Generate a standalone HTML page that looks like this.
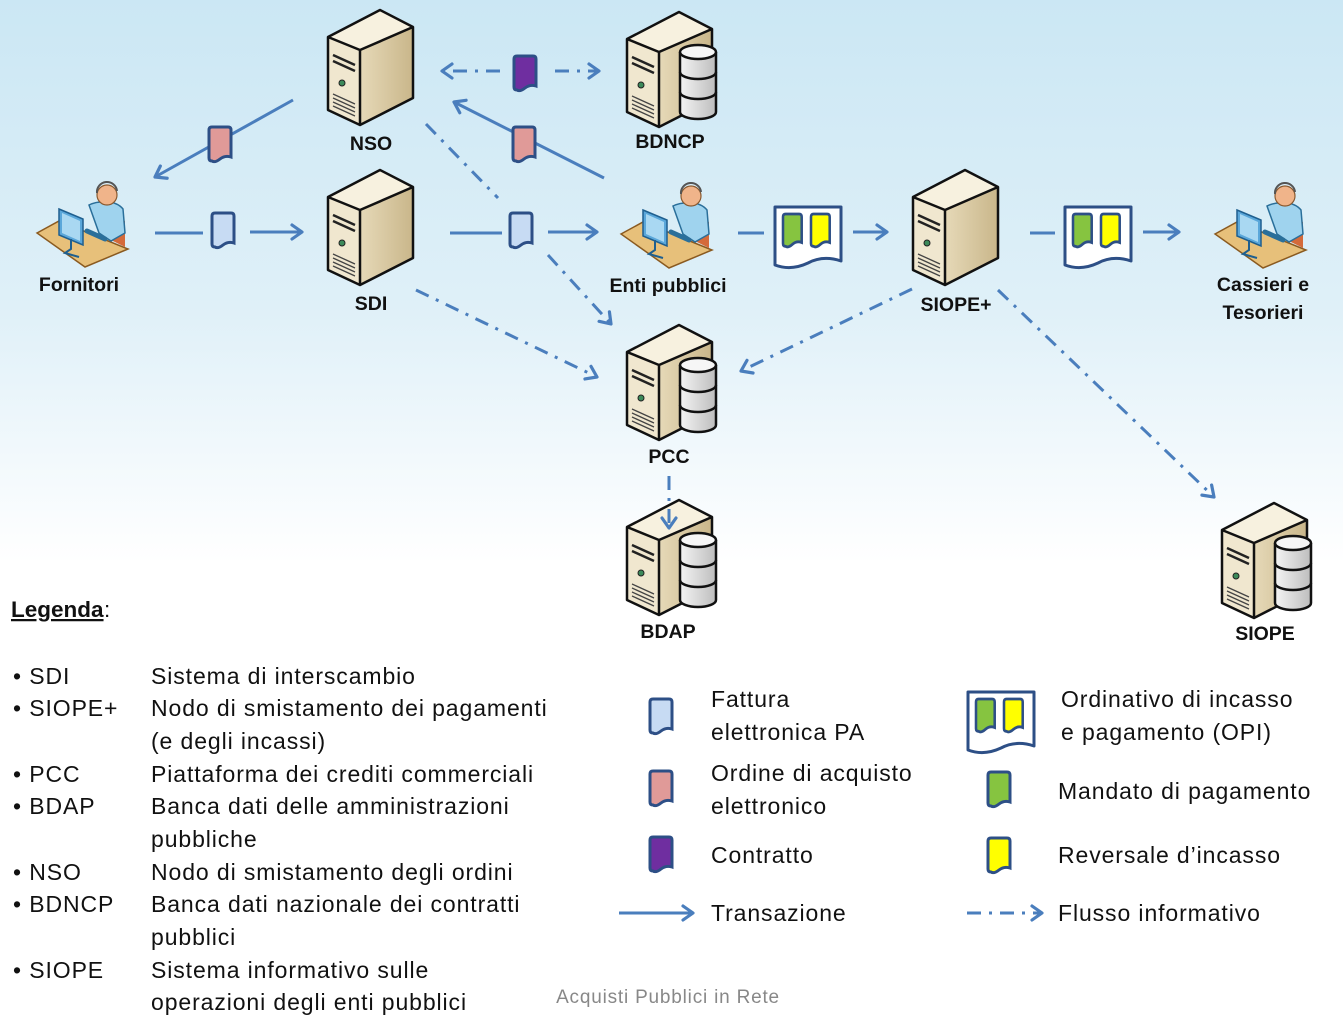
<!DOCTYPE html>
<html><head><meta charset="utf-8"><style>
html,body{margin:0;padding:0;}
body{width:1343px;height:1023px;overflow:hidden;background:#fff;}
svg{display:block;font-family:"Liberation Sans",sans-serif;}
.lb{font-weight:bold;font-size:19.5px;fill:#111;text-anchor:middle;}
.lg{font-size:23px;fill:#111;letter-spacing:0.9px;}
</style></head><body>
<svg width="1343" height="1023" viewBox="0 0 1343 1023" xmlns="http://www.w3.org/2000/svg">
<defs>
<linearGradient id="bg" x1="0" y1="0" x2="0" y2="1">
<stop offset="0" stop-color="#cbe7f4"/><stop offset="0.3" stop-color="#dff0f8"/><stop offset="0.55" stop-color="#ffffff"/><stop offset="1" stop-color="#ffffff"/>
</linearGradient>
<linearGradient id="sr" x1="0" y1="0" x2="1" y2="0"><stop offset="0" stop-color="#e6d9b8"/><stop offset="1" stop-color="#c9b68a"/></linearGradient>
<linearGradient id="cy" x1="0" y1="0" x2="1" y2="0"><stop offset="0" stop-color="#f4f4f4"/><stop offset="1" stop-color="#bdbdbd"/></linearGradient>
<marker id="ah" markerWidth="16" markerHeight="18" refX="13" refY="9" orient="auto" markerUnits="userSpaceOnUse">
<path d="M3,2 L13,9 L3,16" fill="none" stroke="#4a7ebd" stroke-width="3.2" stroke-linejoin="round" stroke-linecap="round"/></marker>
<g id="srv">
<polygon points="32,40 85,17 85,88 32,115" fill="url(#sr)"/>
<polygon points="0,27 32,40 32,115 0,100" fill="#f0e7cf"/>
<polygon points="0,27 52,0 85,17 32,40" fill="#f7f1df"/>
<path d="M0,27 L52,0 L85,17 L85,88 L32,115 L0,100 Z M0,27 L32,40 L85,17 M32,40 L32,115" fill="none" stroke="#111" stroke-width="2.5" stroke-linejoin="round"/>
<path d="M5,45 L27,55 M5,51 L27,61" stroke="#222" stroke-width="2.5"/>
<circle cx="14" cy="73" r="3" fill="#3c8a5a" stroke="#222" stroke-width="1"/>
<path d="M5,84 L27,94 M5,88 L27,98 M5,92 L27,102 M5,96 L27,106" stroke="#444" stroke-width="1.3"/>
</g>
<g id="cyl">
<path d="M0,8 V68 A18,7 0 0 0 36,68 V8" fill="url(#cy)" stroke="#111" stroke-width="2.5"/>
<path d="M0,28 A18,7 0 0 0 36,28 M0,48 A18,7 0 0 0 36,48" fill="none" stroke="#111" stroke-width="2.5"/>
<ellipse cx="18" cy="8" rx="18" ry="7" fill="#f6f6f6" stroke="#111" stroke-width="2.5"/>
</g>
<g id="dbs"><use href="#srv"/><use href="#cyl" x="53" y="32"/></g>
<g id="per">
<polygon points="0,50 22,38 91,66 48,84" fill="#e7c07a" stroke="#8a5a20" stroke-width="1.5"/>
<polygon points="68,28 88,38 88,64 68,54" fill="#d46a3a"/>
<path d="M52,22 C60,18 78,16 86,26 L88,50 L74,58 L62,50 Z" fill="#9fd3ee" stroke="#2a6f9a" stroke-width="1.5"/>
<circle cx="70" cy="12" r="10" fill="#f0b48a" stroke="#8a5a30" stroke-width="1.2"/>
<path d="M60,10 A10,10 0 0 1 80,8" fill="none" stroke="#555" stroke-width="2"/>
<polygon points="22,26 46,36 46,62 22,52" fill="#5aa7da" stroke="#1f5f8f" stroke-width="1.5"/>
<polygon points="25,30 43,38 43,58 25,50" fill="#a9d8f2"/>
<path d="M34,56 L34,66 L28,70 L42,74" fill="none" stroke="#1f5f8f" stroke-width="2"/>
<path d="M50,48 L68,56" stroke="#2a6f9a" stroke-width="5" stroke-linecap="round"/>
</g>
<path id="docp" d="M3,0 H19 Q22,0 22,3 V30 Q16,28 11,32 Q6,36 3,34 Q0,34 0,31 V3 Q0,0 3,0 Z"/>
<g id="dB"><use href="#docp" fill="#c7dbf3" stroke="#2d4f86" stroke-width="3"/></g>
<g id="dP"><use href="#docp" fill="#e09a98" stroke="#2d4f86" stroke-width="3"/></g>
<g id="dV"><use href="#docp" fill="#6f2ea0" stroke="#2d4f86" stroke-width="3"/></g>
<g id="dG"><use href="#docp" fill="#86c440" stroke="#2d4f86" stroke-width="3"/></g>
<g id="dY"><use href="#docp" fill="#ffff00" stroke="#2d4f86" stroke-width="3"/></g>
<g id="opi">
<path d="M2,2 H68 V56 Q50,50 35,58 Q18,66 2,60 Z" fill="#fff" stroke="#2d4f86" stroke-width="3" stroke-linejoin="round"/>
<use href="#dG" transform="translate(10,9) scale(0.85,0.95)"/>
<use href="#dY" transform="translate(38,9) scale(0.85,0.95)"/>
</g>
</defs>
<rect width="1343" height="1023" fill="url(#bg)"/>

<!-- connectors -->
<g stroke="#4a7ebd" stroke-width="3" fill="none">
<line x1="293" y1="100" x2="155" y2="177" marker-end="url(#ah)"/>
<line x1="604" y1="178" x2="454" y2="102" marker-end="url(#ah)"/>
<line x1="155" y1="233" x2="203" y2="233"/>
<line x1="250" y1="232" x2="302" y2="232" marker-end="url(#ah)"/>
<line x1="450" y1="233" x2="502" y2="233"/>
<line x1="548" y1="232" x2="597" y2="232" marker-end="url(#ah)"/>
<line x1="738" y1="233" x2="764" y2="233"/>
<line x1="853" y1="232" x2="887" y2="232" marker-end="url(#ah)"/>
<line x1="1030" y1="233" x2="1055" y2="233"/>
<line x1="1143" y1="232" x2="1179" y2="232" marker-end="url(#ah)"/>
<g stroke-dasharray="14 8 3 8">
<line x1="500" y1="71" x2="442" y2="71" marker-end="url(#ah)"/>
<line x1="555" y1="71" x2="599" y2="71" marker-end="url(#ah)"/>
<line x1="426" y1="124" x2="498" y2="198"/>
<line x1="548" y1="255" x2="611" y2="324" marker-end="url(#ah)"/>
<line x1="416" y1="290" x2="597" y2="377" marker-end="url(#ah)"/>
<line x1="912" y1="289" x2="741" y2="371" marker-end="url(#ah)"/>
<line x1="998" y1="290" x2="1214" y2="497" marker-end="url(#ah)"/>
</g>
</g>

<!-- docs on connectors -->
<use href="#dV" x="514" y="56"/>
<use href="#dP" x="209" y="127"/>
<use href="#dP" x="513" y="127"/>
<use href="#dB" x="212" y="213"/>
<use href="#dB" x="510" y="213"/>
<use href="#opi" x="773" y="205"/>
<use href="#opi" x="1063" y="205"/>

<!-- nodes -->
<use href="#srv" x="328" y="10"/><text class="lb" x="371" y="150">NSO</text>
<use href="#dbs" x="627" y="12"/><text class="lb" x="670" y="148">BDNCP</text>
<use href="#srv" x="328" y="170"/><text class="lb" x="371" y="310">SDI</text>
<use href="#dbs" x="627" y="325"/><text class="lb" x="669" y="463">PCC</text>
<use href="#dbs" x="627" y="500"/><text class="lb" x="668" y="638">BDAP</text>
<use href="#srv" x="913" y="170"/><text class="lb" x="956" y="311">SIOPE+</text>
<use href="#dbs" x="1222" y="503"/><text class="lb" x="1265" y="640">SIOPE</text>
<use href="#per" x="37" y="183"/><text class="lb" x="79" y="291">Fornitori</text>
<use href="#per" x="621" y="184"/><text class="lb" x="668" y="292">Enti pubblici</text>
<use href="#per" x="1215" y="184"/><text class="lb" x="1263" y="291">Cassieri e</text><text class="lb" x="1263" y="319">Tesorieri</text>

<line x1="669" y1="476" x2="669" y2="528" stroke="#4a7ebd" stroke-width="3" stroke-dasharray="14 8 3 8" marker-end="url(#ah)"/>

<!-- legend -->
<text x="11" y="617" font-size="22.5" font-weight="bold" fill="#111" text-decoration="underline">Legenda</text><text x="104" y="617" font-size="22.5" fill="#111">:</text>
<g class="lg">
<text x="13" y="684">• SDI</text><text x="151" y="684">Sistema di interscambio</text>
<text x="13" y="716">• SIOPE+</text><text x="151" y="716">Nodo di smistamento dei pagamenti</text>
<text x="151" y="749">(e degli incassi)</text>
<text x="13" y="782">• PCC</text><text x="151" y="782">Piattaforma  dei crediti commerciali</text>
<text x="13" y="814">• BDAP</text><text x="151" y="814">Banca dati delle amministrazioni</text>
<text x="151" y="847">pubbliche</text>
<text x="13" y="880">• NSO</text><text x="151" y="880">Nodo di smistamento degli ordini</text>
<text x="13" y="912">• BDNCP</text><text x="151" y="912">Banca dati nazionale dei contratti</text>
<text x="151" y="945">pubblici</text>
<text x="13" y="978">• SIOPE</text><text x="151" y="978">Sistema informativo sulle</text>
<text x="151" y="1010">operazioni degli enti pubblici</text>
<text x="711" y="707">Fattura</text><text x="711" y="740">elettronica  PA</text>
<text x="711" y="781">Ordine di acquisto</text><text x="711" y="814">elettronico</text>
<text x="711" y="863">Contratto</text>
<text x="711" y="921">Transazione</text>
<text x="1061" y="707">Ordinativo di incasso</text><text x="1061" y="740">e pagamento (OPI)</text>
<text x="1058" y="799">Mandato di pagamento</text>
<text x="1058" y="863">Reversale d’incasso</text>
<text x="1058" y="921">Flusso informativo</text>
</g>
<use href="#dB" x="650" y="699"/>
<use href="#dP" x="650" y="771"/>
<use href="#dV" x="650" y="837"/>
<use href="#opi" x="966" y="690"/>
<use href="#dG" x="988" y="772"/>
<use href="#dY" x="988" y="838"/>
<line x1="619" y1="913" x2="693" y2="913" stroke="#4a7ebd" stroke-width="3" marker-end="url(#ah)"/>
<line x1="967" y1="913" x2="1042" y2="913" stroke="#4a7ebd" stroke-width="3" stroke-dasharray="14 8 3 8" marker-end="url(#ah)"/>
<text x="668" y="1003" font-size="19" fill="#888" text-anchor="middle" letter-spacing="0.8">Acquisti Pubblici in Rete</text>
</svg>
</body></html>
